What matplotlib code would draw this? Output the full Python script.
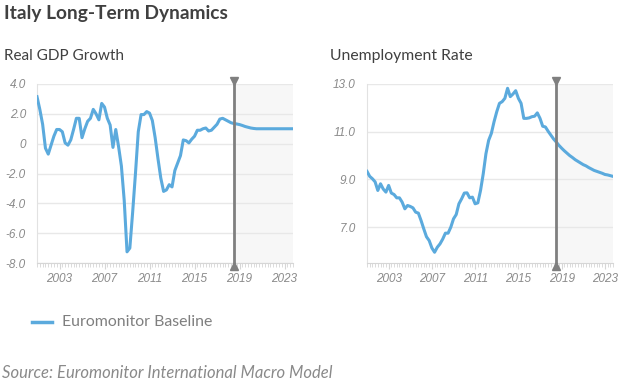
"""Italy long-term dynamics: real GDP growth and unemployment rate."""
import matplotlib
matplotlib.use("Agg")
import matplotlib.pyplot as plt
import matplotlib.transforms as mtransforms
import numpy as np

START_YEAR = 2001.0  # first quarter shown
FORECAST_START = 2018.5

gdp_growth = [
    3.15, 2.3, 1.3, -0.3, -0.7, -0.1, 0.5, 0.95, 0.95, 0.8,
    0.05, -0.1, 0.25, 0.95, 1.7, 1.7, 0.4, 1.0, 1.5, 1.7,
    2.3, 2.0, 1.6, 2.7, 2.45, 1.7, 1.25, -0.25, 0.95, -0.2,
    -1.5, -3.8, -7.25, -7.0, -4.6, -2.0, 0.8, 1.95, 1.95, 2.15,
    2.05, 1.55, 0.4, -1.0, -2.3, -3.2, -3.1, -2.75, -2.9, -1.8,
    -1.3, -0.8, 0.25, 0.2, 0.05, 0.3, 0.5, 0.9, 0.9, 1.0,
    1.05, 0.85, 0.9, 1.1, 1.3, 1.65, 1.7, 1.6, 1.5, 1.4,
    1.35, 1.32, 1.28, 1.22, 1.15, 1.1, 1.05, 1.02, 1.0, 1.0,
    1.0, 1.0, 1.0, 1.0, 1.0, 1.0, 1.0, 1.0, 1.0, 1.0,
    1.0, 1.0,
]

unemployment = [
    9.34, 9.13, 9.03, 8.9, 8.54, 8.82, 8.6, 8.47, 8.75, 8.43,
    8.37, 8.23, 8.23, 8.05, 7.77, 7.91, 7.87, 7.81, 7.63, 7.59,
    7.28, 6.93, 6.6, 6.44, 6.13, 5.95, 6.16, 6.3, 6.5, 6.75,
    6.75, 7.0, 7.35, 7.53, 7.98, 8.19, 8.43, 8.44, 8.23, 8.26,
    7.98, 8.02, 8.54, 9.24, 10.08, 10.64, 10.93, 11.42, 11.84, 12.19,
    12.26, 12.4, 12.82, 12.47, 12.58, 12.72, 12.4, 12.19, 11.56, 11.56,
    11.58, 11.63, 11.65, 11.79, 11.56, 11.23, 11.2, 11.02, 10.86, 10.7,
    10.57, 10.43, 10.31, 10.2, 10.1, 10.0, 9.92, 9.83, 9.76, 9.69,
    9.62, 9.57, 9.5, 9.44, 9.38, 9.34, 9.3, 9.26, 9.21, 9.19,
    9.16, 9.13,
]

year_ticks = [2003, 2007, 2011, 2015, 2019, 2023]
gdp_yticks = [4.0, 2.0, 0, -2.0, -4.0, -6.0, -8.0]
gdp_ylabels = ["4.0", "2.0", "0", "-2.0", "-4.0", "-6.0", "-8.0"]
unemp_yticks = [7.0, 9.0, 11.0, 13.0]
unemp_ylabels = ["7.0", "9.0", "11.0", "13.0"]

LINE = "#5BAADD"
GRID = "#e8e8e8"
TICK = "#8a8a8a"
TEXT = "#404040"

TEXT_FONT = ["Lato", "DejaVu Sans"]
TICK_FONT = ["Liberation Sans", "DejaVu Sans"]


def quarters(n):
    return START_YEAR + 0.25 * np.arange(n)


def style_panel(ax, x, y, ylim, yticks, ylabels):
    x_end = x[-1]
    ax.axvspan(FORECAST_START, x_end, color="#f7f7f7", zorder=0, lw=0)
    ax.plot(x, y, color=LINE, lw=2.2, zorder=3, solid_joinstyle="round")
    ax.set_xlim(x[0], x_end)
    ax.set_ylim(*ylim)

    ax.set_yticks(yticks)
    ax.set_yticklabels(ylabels)
    ax.set_xticks(year_ticks)
    ax.set_xticklabels([str(t) for t in year_ticks])
    ax.set_xticks(np.arange(x[0], x_end + 0.01, 0.25), minor=True)
    ax.grid(axis="y", color=GRID, lw=1, zorder=1)
    ax.tick_params(axis="y", length=0, pad=8, labelcolor=TICK)
    ax.tick_params(axis="x", which="major", length=4, color="#d6d6d6",
                   labelcolor=TICK, pad=3)
    ax.tick_params(axis="x", which="minor", length=3, color="#d6d6d6")
    for lbl in ax.get_xticklabels() + ax.get_yticklabels():
        lbl.set_family(TICK_FONT)
        lbl.set_style("italic")
        lbl.set_fontsize(8.5)

    for side in ("top", "right"):
        ax.spines[side].set_visible(False)
    ax.spines["left"].set_color("#e2e2e2")
    ax.spines["bottom"].set_color("#d6d6d6")

    # forecast divider with triangle caps
    trans = mtransforms.blended_transform_factory(ax.transData, ax.transAxes)
    ax.plot([FORECAST_START, FORECAST_START], [-0.015, 1.015], color="#7f7f7f",
            lw=2, transform=trans, clip_on=False, zorder=4)
    ax.plot([FORECAST_START], [1.015], marker="v", ms=6, color="#7f7f7f",
            transform=trans, clip_on=False, zorder=5)
    ax.plot([FORECAST_START], [-0.015], marker="^", ms=6, color="#7f7f7f",
            transform=trans, clip_on=False, zorder=5)


fig = plt.figure(figsize=(6.24, 3.86), dpi=100)

ax_gdp = fig.add_axes([37 / 624, 1 - 263 / 386, 256 / 624, 179 / 386])
ax_unemp = fig.add_axes([367 / 624, 1 - 263 / 386, 246 / 624, 179 / 386])

style_panel(ax_gdp, quarters(len(gdp_growth)), gdp_growth, (-8, 4),
            gdp_yticks, gdp_ylabels)
style_panel(ax_unemp, quarters(len(unemployment)), unemployment, (5.5, 13),
            unemp_yticks, unemp_ylabels)

fig.text(4 / 624, 1 - 13 / 386, "Italy Long-Term Dynamics", family=TEXT_FONT,
         weight="bold", fontsize=13.8, color=TEXT, va="center")
fig.text(4 / 624, 1 - 56 / 386, "Real GDP Growth", family=TEXT_FONT,
         fontsize=11, color=TEXT, va="center")
fig.text(330 / 624, 1 - 56 / 386, "Unemployment Rate", family=TEXT_FONT,
         fontsize=11.3, color=TEXT, va="center")

# legend
fig.lines.append(plt.Line2D([32 / 624, 52 / 624], [1 - 322 / 386] * 2,
                            transform=fig.transFigure, color=LINE, lw=2.5))
fig.text(62 / 624, 1 - 322 / 386, "Euromonitor Baseline", family=TEXT_FONT,
         fontsize=11.4, color="#7f7f7f", va="center")

fig.text(2 / 624, 1 - 373 / 386, "Source: Euromonitor International Macro Model",
         family=TEXT_FONT, style="italic", fontsize=12, color="#8a8a8a",
         va="center")

fig.savefig("out.png", dpi=100)
